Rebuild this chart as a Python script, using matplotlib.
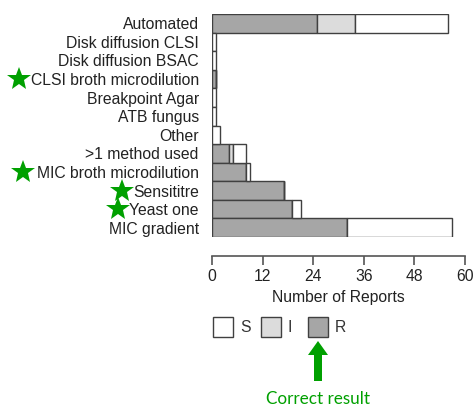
import matplotlib
matplotlib.use("Agg")
import matplotlib.pyplot as plt
import matplotlib.transforms as mtransforms
from matplotlib.patches import Rectangle, FancyArrow
import numpy as np

plt.rcParams["font.family"] = ["Liberation Sans", "DejaVu Sans"]

# methods, top to bottom
methods = ["Automated", "Disk diffusion CLSI", "Disk diffusion BSAC",
           "CLSI broth microdilution", "Breakpoint Agar", "ATB fungus", "Other",
           ">1 method used", "MIC broth microdilution", "Sensititre",
           "Yeast one", "MIC gradient"]
r_vals = [25, 0, 0, 1, 0, 0, 0, 4, 8, 17, 19, 32]
i_vals = [9, 0, 0, 0, 0, 0, 0, 1, 0, 0, 0, 0]
s_vals = [22, 1, 1, 0, 1, 1, 2, 3, 1, 0, 2, 25]
starred = ["CLSI broth microdilution", "MIC broth microdilution", "Sensititre", "Yeast one"]
star_x_px = {"CLSI broth microdilution": 19, "MIC broth microdilution": 23,
             "Sensititre": 122, "Yeast one": 118}
xticks = [0, 12, 24, 36, 48, 60]

col_r = "#a6a6a6"
col_i = "#dcdcdc"
col_s = "#ffffff"
edge = "#404040"
green = "#00a000"
txt = "#222222"

W, H = 474, 409
fig = plt.figure(figsize=(W / 100, H / 100), dpi=100)
ax = fig.add_axes([212 / W, (H - 237) / H, 253 / W, 223 / H])

y = np.arange(len(methods))[::-1]
r = np.array(r_vals)
i = np.array(i_vals)
s = np.array(s_vals)
ax.barh(y, r, height=1.0, color=col_r, edgecolor=edge, linewidth=1)
ax.barh(y, i, left=r, height=1.0, color=col_i, edgecolor=edge, linewidth=1)
ax.barh(y, s, left=r + i, height=1.0, color=col_s, edgecolor=edge, linewidth=1)

ax.set_xlim(0, 60)
ax.set_ylim(-0.5, len(methods) - 0.5)
ax.set_yticks(y)
ax.set_yticklabels(methods, fontsize=11.3, color=txt)
ax.tick_params(axis="y", length=0, pad=9.5)
ax.set_xticks(xticks)
ax.tick_params(axis="x", labelsize=11.3, labelcolor=txt, length=6.5,
               color="#555555", width=1.2, pad=3)
for sp in ["top", "right", "left"]:
    ax.spines[sp].set_visible(False)
ax.spines["bottom"].set_position(("outward", 13.7))
ax.spines["bottom"].set_bounds(0, 60)
ax.spines["bottom"].set_color("#555555")
ax.spines["bottom"].set_linewidth(1.2)
ax.set_xlabel("Number of Reports", fontsize=11.3, labelpad=4, color=txt)

# green stars next to the correct methods
trans = mtransforms.blended_transform_factory(fig.transFigure, ax.transData)
for name in starred:
    yy = y[methods.index(name)]
    ax.plot(star_x_px[name] / W, yy, marker="*", color=green, markersize=18,
            transform=trans, clip_on=False, markeredgewidth=0)

# legend boxes
legend_items = [("S", col_s), ("I", col_i), ("R", col_r)]
for k, (lab, c) in enumerate(legend_items):
    x0 = 213 + k * 47.5
    fig.patches.append(Rectangle((x0 / W, (H - 337) / H), 20 / W, 20 / H,
                                 transform=fig.transFigure, facecolor=c,
                                 edgecolor=edge, linewidth=1))
    fig.text((x0 + 27) / W, (H - 327) / H, lab, fontsize=11.3, va="center",
             ha="left", color="#333333")

# arrow and note
fig.patches.append(FancyArrow(318 / W, (H - 381) / H, 0, 40 / H,
                              width=8 / W, head_width=20 / W, head_length=14 / H,
                              length_includes_head=True, transform=fig.transFigure,
                              color=green, linewidth=0))
fig.text(318 / W, (H - 399) / H, "Correct result", fontsize=12.3, color=green,
         ha="center", va="center", family=["Lato", "DejaVu Sans"])

fig.savefig("out.png", dpi=100)
